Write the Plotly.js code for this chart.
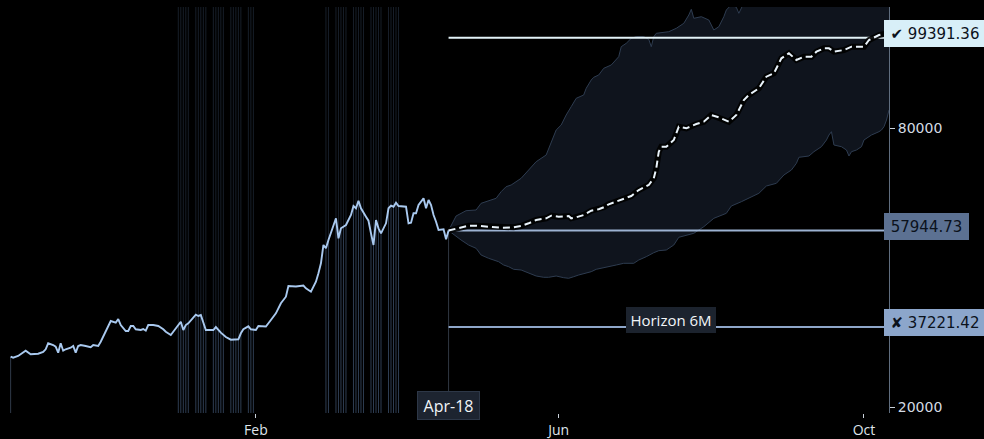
<!DOCTYPE html>
<html><head><meta charset="utf-8">
<script src="https://cdn.plot.ly/plotly-3.0.1.min.js"></script>
<style>html,body{margin:0;padding:0;background:#000;}#chart{width:984px;height:439px;}</style>
</head><body><div id="chart"></div>
<script>
// ---- historical price ----
const priceDates = ['2023-10-26','2023-10-27','2023-10-29','2023-10-30','2023-11-01','2023-11-03','2023-11-05','2023-11-06','2023-11-08','2023-11-09','2023-11-10','2023-11-12','2023-11-13','2023-11-14','2023-11-15','2023-11-16','2023-11-17','2023-11-19','2023-11-20','2023-11-21','2023-11-22','2023-11-23','2023-11-25','2023-11-27','2023-11-28','2023-11-30','2023-12-01','2023-12-03','2023-12-05','2023-12-07','2023-12-08','2023-12-09','2023-12-11','2023-12-12','2023-12-13','2023-12-14','2023-12-15','2023-12-17','2023-12-18','2023-12-19','2023-12-20','2023-12-22','2023-12-24','2023-12-26','2023-12-27','2023-12-29','2023-12-30','2023-12-31','2024-01-02','2024-01-03','2024-01-04','2024-01-05','2024-01-08','2024-01-09','2024-01-10','2024-01-12','2024-01-15','2024-01-16','2024-01-17','2024-01-18','2024-01-20','2024-01-22','2024-01-25','2024-01-26','2024-01-27','2024-01-29','2024-01-30','2024-02-01','2024-02-02','2024-02-05','2024-02-07','2024-02-09','2024-02-11','2024-02-13','2024-02-14','2024-02-17','2024-02-20','2024-02-21','2024-02-23','2024-02-25','2024-02-26','2024-02-27','2024-02-28','2024-02-29','2024-03-01','2024-03-03','2024-03-04','2024-03-05','2024-03-06','2024-03-08','2024-03-10','2024-03-11','2024-03-12','2024-03-13','2024-03-14','2024-03-16','2024-03-17','2024-03-18','2024-03-19','2024-03-20','2024-03-21','2024-03-22','2024-03-24','2024-03-25','2024-03-26','2024-03-27','2024-03-28','2024-03-29','2024-04-01','2024-04-02','2024-04-03','2024-04-04','2024-04-05','2024-04-06','2024-04-08','2024-04-09','2024-04-10','2024-04-11','2024-04-12','2024-04-13','2024-04-14','2024-04-16','2024-04-17','2024-04-18'];
const priceVals = [30820,30600,30970,31400,32110,31330,31330,31460,31830,32410,33700,33330,32970,31680,33700,32110,32410,32750,33120,31680,33120,33330,33120,32840,33330,33120,34040,36190,38490,38130,38920,37630,36340,36340,37420,37420,36710,36560,36770,36410,37630,37630,37420,36710,36190,35480,36190,36920,38340,36560,37630,38000,39850,39570,39780,36560,36560,37200,36490,35980,35050,34470,34560,35850,36710,37350,36710,36560,37420,37310,38710,40150,42300,43720,46020,45910,46130,45530,44800,46950,48750,50900,54840,54130,55910,58770,60580,56280,58430,59140,61290,63230,62730,64370,62730,60920,60060,57350,54840,60210,58430,57350,59500,62730,63290,63070,63930,63230,63070,59500,59630,61660,61660,63440,64880,62730,64520,63440,61290,59850,58060,58210,56060,57944.73];

// ---- forecast band ----
const upperDates = ['2024-04-18','2024-04-21','2024-04-25','2024-04-29','2024-05-01','2024-05-05','2024-05-07','2024-05-09','2024-05-11','2024-05-13','2024-05-17','2024-05-20','2024-05-23','2024-05-27','2024-05-29','2024-05-31','2024-06-02','2024-06-04','2024-06-06','2024-06-08','2024-06-11','2024-06-12','2024-06-14','2024-06-15','2024-06-17','2024-06-19','2024-06-22','2024-06-25','2024-06-26','2024-06-28','2024-06-30','2024-07-02','2024-07-05','2024-07-07','2024-07-08','2024-07-09','2024-07-10','2024-07-11','2024-07-15','2024-07-18','2024-07-21','2024-07-23','2024-07-24','2024-07-25','2024-07-28','2024-07-31','2024-08-02','2024-08-04','2024-08-06','2024-08-07','2024-08-09','2024-08-11','2024-08-12','2024-08-14','2024-08-20','2024-08-31','2024-09-10','2024-09-20','2024-10-01','2024-10-10','2024-10-18'];
const upperVals = [57944.73,61075,62215,62365,63806,64515,64880,66300,67375,67740,69180,70967,72752,74193,76709,79569,80644,82795,84580,86385,87096,88536,90320,90900,91397,92838,93547,95332,97482,98214,99289,99633,99633,99074,97482,99633,100364,100429,100708,101439,102515,104300,105526,103590,103935,103225,101075,101785,103935,105375,106500,105956,104666,106900,109000,112000,115000,117000,120000,122000,124000];

const lowerDates = ['2024-04-18','2024-04-23','2024-04-26','2024-04-29','2024-05-01','2024-05-04','2024-05-08','2024-05-10','2024-05-12','2024-05-14','2024-05-17','2024-05-19','2024-05-21','2024-05-23','2024-05-26','2024-05-28','2024-05-31','2024-06-03','2024-06-05','2024-06-07','2024-06-09','2024-06-11','2024-06-14','2024-06-16','2024-06-19','2024-06-21','2024-06-24','2024-06-27','2024-07-01','2024-07-03','2024-07-06','2024-07-09','2024-07-11','2024-07-14','2024-07-17','2024-07-19','2024-07-25','2024-07-29','2024-08-02','2024-08-07','2024-08-09','2024-08-13','2024-08-16','2024-08-20','2024-08-23','2024-08-27','2024-08-30','2024-09-02','2024-09-04','2024-09-05','2024-09-09','2024-09-11','2024-09-14','2024-09-16','2024-09-17','2024-09-18','2024-09-19','2024-09-22','2024-09-24','2024-09-25','2024-09-26','2024-09-28','2024-09-30','2024-10-01','2024-10-04','2024-10-07','2024-10-08','2024-10-09','2024-10-10','2024-10-11','2024-10-18'];
const lowerVals = [57944.73,55913,54838,54128,52688,51978,51247,50537,50171,49612,49462,49096,48602,48172,47892,47892,48172,47806,47677,48021,48387,48752,49096,49612,49827,50171,50537,50902,50902,51613,52322,53182,53612,53763,54838,56494,57354,58774,60580,61655,63225,64150,64880,65956,67526,68107,69892,70967,72408,73698,73978,74903,75978,77418,78494,79204,76343,75978,75268,73978,74903,75268,75978,77418,78494,79204,79569,80278,81720,83870,86000];

const medianDates = ['2024-04-18','2024-04-22','2024-04-26','2024-04-29','2024-05-04','2024-05-09','2024-05-14','2024-05-17','2024-05-20','2024-05-23','2024-05-27','2024-05-29','2024-06-01','2024-06-05','2024-06-06','2024-06-08','2024-06-11','2024-06-14','2024-06-17','2024-06-19','2024-06-21','2024-06-24','2024-06-27','2024-06-30','2024-07-03','2024-07-07','2024-07-09','2024-07-10','2024-07-11','2024-07-12','2024-07-14','2024-07-17','2024-07-19','2024-07-22','2024-07-26','2024-07-29','2024-08-01','2024-08-04','2024-08-08','2024-08-11','2024-08-14','2024-08-16','2024-08-20','2024-08-23','2024-08-26','2024-08-28','2024-08-29','2024-09-01','2024-09-04','2024-09-07','2024-09-10','2024-09-12','2024-09-15','2024-09-17','2024-09-19','2024-09-23','2024-09-26','2024-10-01','2024-10-03','2024-10-07','2024-10-10','2024-10-18'];
const medianVals = [57944.73,58430,58989,58989,58774,58559,58645,58924,59505,60214,60580,61139,60924,61075,60580,60795,61290,62215,62516,62946,63591,64150,64666,65376,66666,67741,69182,71332,74902,75978,75978,77418,80278,79934,80859,81354,82795,82300,81354,82795,86020,87096,88536,91031,91762,93913,94988,96063,94622,95332,95332,96407,97138,97138,96407,96773,97482,97482,98923,99998,100364,101200];

// ---- levels ----
const targetLevel = 99391.36;
const currentLevel = 57944.73;
const stopLevel = 37221.42;
const horizonStart = '2024-04-18';
const horizonEnd = '2024-10-18';
const horizonLabel = 'Horizon 6M';
const startLabel = 'Apr-18';

// ---- y ticks (labels under the level boxes are covered in the reference) ----
const yTickVals = [20000, 40000, 60000, 80000, 100000];
const yTickText = ['20000', '', '', '80000', ''];

// ---- event day markers ----
const eventDates = ['2024-01-01','2024-01-02','2024-01-03','2024-01-04','2024-01-05','2024-01-08','2024-01-09','2024-01-10','2024-01-11','2024-01-12','2024-01-15','2024-01-16','2024-01-17','2024-01-18','2024-01-19','2024-01-22','2024-01-23','2024-01-24','2024-01-25','2024-01-26','2024-01-29','2024-01-30','2024-01-31','2024-02-29','2024-03-01','2024-03-04','2024-03-05','2024-03-06','2024-03-07','2024-03-08','2024-03-11','2024-03-12','2024-03-13','2024-03-14','2024-03-15','2024-03-18','2024-03-19','2024-03-20','2024-03-21','2024-03-22','2024-03-25','2024-03-26','2024-03-27','2024-03-28','2024-03-29'];

const X_RANGE = ['2023-10-21 18:00', '2024-10-11'];
const Y_RANGE = [18710, 106020];

const traces = [];
traces.push({x: priceDates, y: priceDates.map(() => Y_RANGE[1]), mode: 'lines', line: {width: 0}, hoverinfo: 'skip'});
traces.push({x: priceDates, y: priceVals, mode: 'lines', line: {width: 0}, fill: 'tonexty', fillcolor: 'rgba(0,0,0,0.5)', hoverinfo: 'skip'});
traces.push({
  x: upperDates.concat(lowerDates.slice().reverse()),
  y: upperVals.concat(lowerVals.slice().reverse()),
  mode: 'lines', fill: 'toself', fillcolor: '#0f141d',
  line: {color: '#2e3c50', width: 1}, hoverinfo: 'skip'
});
traces.push({x: [horizonStart, horizonEnd], y: [targetLevel, targetLevel], mode: 'lines', line: {color: '#e2f2f7', width: 2}});
traces.push({x: [horizonStart, horizonEnd], y: [currentLevel, currentLevel], mode: 'lines', line: {color: '#9cb2d2', width: 2}});
traces.push({x: [horizonStart, horizonEnd], y: [stopLevel, stopLevel], mode: 'lines', line: {color: '#8ea6c9', width: 2}});
traces.push({x: medianDates, y: medianVals, mode: 'lines', line: {color: 'rgba(0,0,0,0.9)', width: 6}});
traces.push({x: medianDates, y: medianVals, mode: 'lines', line: {color: '#e9f3fb', width: 2, dash: '7px,4px'}});
traces.push({x: priceDates, y: priceVals, mode: 'lines', line: {color: '#a9c9ef', width: 1.9}});

const shapes = eventDates.map(d => ({
  type: 'line', xref: 'x', yref: 'paper', x0: d, x1: d, y0: 0, y1: 1,
  layer: 'below', line: {color: '#2e3d52', width: 1}
}));
shapes.push({type: 'line', xref: 'x', yref: 'y', x0: priceDates[0], x1: priceDates[0], y0: Y_RANGE[0], y1: priceVals[0], layer: 'below', line: {color: '#2f3a48', width: 1}});
shapes.push({type: 'line', xref: 'x', yref: 'y', x0: horizonStart, x1: horizonStart, y0: Y_RANGE[0], y1: currentLevel, layer: 'below', line: {color: '#2f3742', width: 1}});

function priceBox(text, level, bg, w) {
  return {xref: 'paper', yref: 'y', x: 1, y: level, xanchor: 'left', yanchor: 'middle',
    xshift: -5, yshift: 4.5, text: text, showarrow: false, bgcolor: bg,
    width: w, height: 21, borderpad: 3, borderwidth: 0,
    font: {family: 'DejaVu Sans', size: 15, color: '#0b121c'}};
}
const annotations = [
  priceBox('✔ 99391.36', targetLevel, '#d8eff8', 96),
  priceBox('57944.73', currentLevel, '#5c7192', 79),
  priceBox('✘ 37221.42', stopLevel, '#8ca6cb', 96),
  {xref: 'x', yref: 'y', x: '2024-07-16', y: stopLevel, yshift: 7, text: horizonLabel, showarrow: false,
   bgcolor: '#1c232e', width: 84, height: 20, borderpad: 3, borderwidth: 0,
   font: {family: 'Open Sans', size: 15, color: '#f2f5f8'}},
  {xref: 'x', yref: 'paper', x: horizonStart, y: 0.0197, yanchor: 'middle', text: startLabel, showarrow: false,
   bgcolor: '#1d2430', bordercolor: '#2d3747', borderwidth: 1, width: 55, height: 21, borderpad: 3,
   font: {family: 'Open Sans', size: 16, color: '#f2f5f8'}}
];

const layout = {
  width: 984, height: 439,
  paper_bgcolor: '#000', plot_bgcolor: '#000',
  margin: {l: 0, r: 95, t: 7, b: 26, autoexpand: false},
  showlegend: false, hovermode: false,
  xaxis: {type: 'date', range: X_RANGE, tick0: '2024-02-01', dtick: 'M4', tickformat: '%b',
    ticks: 'outside', ticklen: 4, tickcolor: '#c9d1da', showgrid: false, zeroline: false, showline: false,
    tickfont: {family: 'Open Sans', size: 14, color: '#dfe5ec'}},
  yaxis: {side: 'right', range: Y_RANGE, tickmode: 'array', tickvals: yTickVals, ticktext: yTickText,
    ticks: 'outside', ticklen: 5, tickcolor: '#c9d1da', showline: true, linecolor: '#5f6d7e',
    showgrid: false, zeroline: false,
    tickfont: {family: 'DejaVu Sans', size: 14, color: '#d3dbe4'}},
  shapes: shapes,
  annotations: annotations
};

Plotly.newPlot('chart', traces, layout, {staticPlot: true, displayModeBar: false});
</script>
</body></html>
